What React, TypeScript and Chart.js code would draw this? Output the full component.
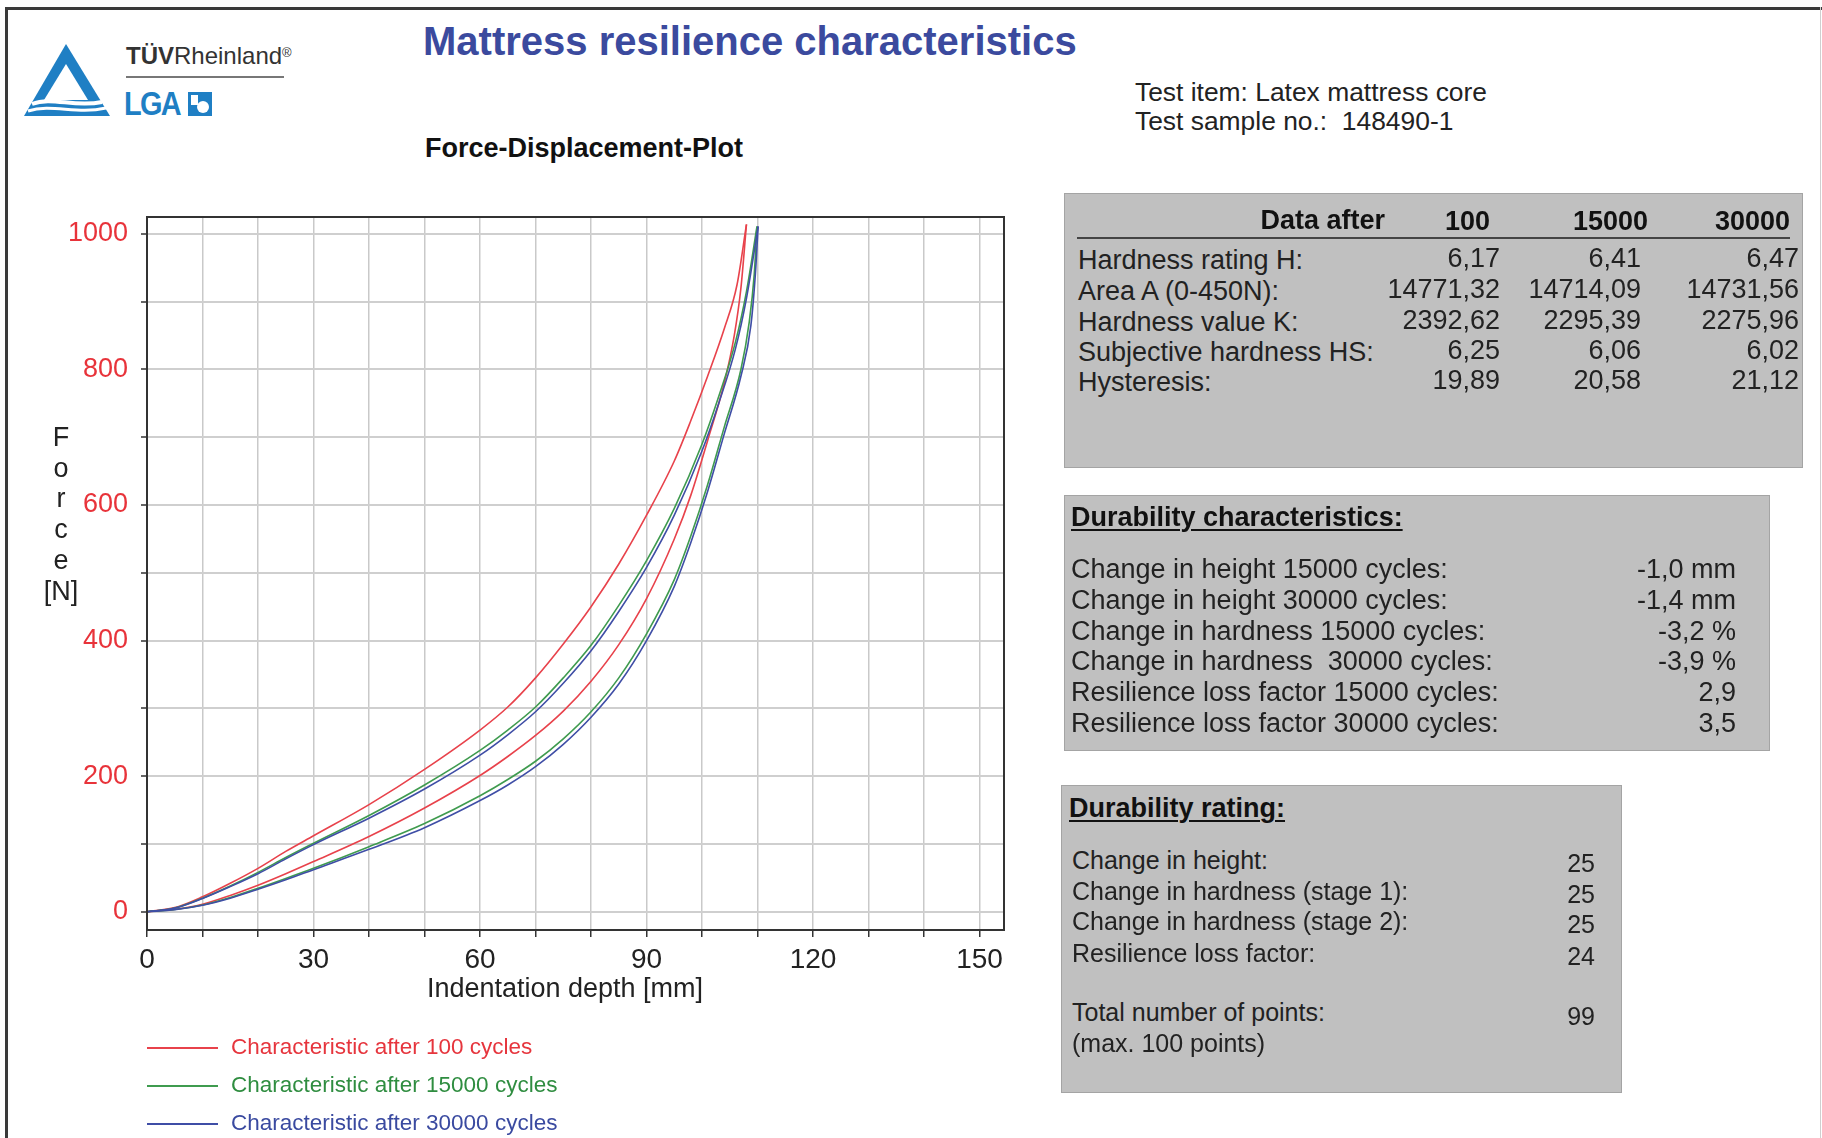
import React, { useEffect, useRef } from 'react';
import { Chart, registerables } from 'chart.js';

Chart.register(...registerables);

const FONT = "'Liberation Sans', Arial, Helvetica, sans-serif";

// Loading (upper) and unloading (lower) branch of each hysteresis loop:
// indentation depth [mm] and force [N]
const LOAD_100_DEPTH = [0, 5, 10, 15, 20, 25, 30, 40, 50, 60, 65, 70, 75, 80, 85, 90, 95, 98, 101, 104, 106.3, 108];
const LOAD_100_FORCE = [0, 6, 22, 42, 64, 89, 112, 158, 210, 268, 302, 345, 395, 450, 513, 585, 665, 725, 790, 860, 925, 1014];
const UNLOAD_100_DEPTH = [0, 5, 10, 15, 20, 25, 30, 40, 50, 60, 65, 70, 75, 80, 85, 90, 95, 98, 101, 104, 105.8, 107, 108];
const UNLOAD_100_FORCE = [0, 3.5, 11, 24, 39, 56, 74, 111, 153, 201, 229, 260, 296, 340, 394, 462, 550, 615, 695, 780, 850, 920, 1014];

const LOAD_15000_DEPTH = [0, 5, 10, 15, 20, 25, 30, 40, 50, 60, 65, 70, 75, 80, 85, 90, 95, 100, 103, 106, 108, 109.9];
const LOAD_15000_FORCE = [0, 5.5, 20, 38, 58, 80, 101, 142, 187, 238, 268, 302, 345, 393, 452, 518, 595, 690, 760, 840, 915, 1011];
const UNLOAD_15000_DEPTH = [0, 5, 10, 15, 20, 25, 30, 40, 50, 60, 65, 70, 75, 80, 85, 90, 95, 98, 101, 104, 107, 108.5, 109.4, 109.9];
const UNLOAD_15000_FORCE = [0, 3.2, 10, 21, 34.5, 49, 64, 96, 130, 171, 195, 222, 255, 295, 345, 410, 490, 555, 630, 715, 800, 870, 940, 1011];

const LOAD_30000_DEPTH = [0, 5, 10, 15, 20, 25, 30, 40, 50, 60, 65, 70, 75, 80, 85, 90, 95, 100, 103, 106, 108, 110.1];
const LOAD_30000_FORCE = [0, 5.3, 19.5, 37, 56, 78, 99, 138, 181, 231, 261, 295, 337, 385, 443, 508, 585, 680, 750, 830, 905, 1011];
const UNLOAD_30000_DEPTH = [0, 5, 10, 15, 20, 25, 30, 40, 50, 60, 65, 70, 75, 80, 85, 90, 95, 98, 101, 104, 107, 108.8, 109.6, 110.1];
const UNLOAD_30000_FORCE = [0, 3, 9.5, 20, 33, 47, 62, 92, 124, 164, 187, 214, 247, 287, 336, 400, 480, 545, 620, 705, 790, 865, 940, 1011];

const SERIES_LABELS = [
  'Characteristic after 100 cycles',
  'Characteristic after 15000 cycles',
  'Characteristic after 30000 cycles',
];
const SERIES_COLORS = ['#e8424b', '#3f9b4f', '#3f4ea6'];
const LEGEND_TEXT_COLORS = ['#e6353d', '#2f8d40', '#3a4aa0'];

const X_TICK_LABELS = [0, 30, 60, 90, 120, 150];
const Y_TICK_LABELS = [0, 200, 400, 600, 800, 1000];

// Tables
const DATA_AFTER_HEADERS = ['100', '15000', '30000'];
const DATA_ROW_LABELS = ['Hardness rating H:', 'Area A (0-450N):', 'Hardness value K:', 'Subjective hardness HS:', 'Hysteresis:'];
const DATA_100 = ['6,17', '14771,32', '2392,62', '6,25', '19,89'];
const DATA_15000 = ['6,41', '14714,09', '2295,39', '6,06', '20,58'];
const DATA_30000 = ['6,47', '14731,56', '2275,96', '6,02', '21,12'];

const DURABILITY_LABELS = [
  'Change in height 15000 cycles:',
  'Change in height 30000 cycles:',
  'Change in hardness 15000 cycles:',
  'Change in hardness  30000 cycles:',
  'Resilience loss factor 15000 cycles:',
  'Resilience loss factor 30000 cycles:',
];
const DURABILITY_VALUES = ['-1,0 mm', '-1,4 mm', '-3,2 %', '-3,9 %', '2,9', '3,5'];

const RATING_LABELS = ['Change in height:', 'Change in hardness (stage 1):', 'Change in hardness (stage 2):', 'Resilience loss factor:'];
const RATING_VALUES = ['25', '25', '25', '24'];
const TOTAL_POINTS = '99';

function pts(depth: number[], force: number[]) {
  return depth.map((d, i) => ({ x: d, y: force[i] }));
}

type TProps = {
  x: number;
  y: number;
  size: number;
  bold?: boolean;
  color?: string;
  align?: 'left' | 'right' | 'center';
  underline?: boolean;
  children: React.ReactNode;
};

function T({ x, y, size, bold, color = '#222', align = 'left', underline, children }: TProps) {
  const w = 700;
  const left = align === 'left' ? x : align === 'right' ? x - w : x - w / 2;
  return (
    <div
      style={{
        position: 'absolute',
        left,
        top: y - size * 0.6,
        width: align === 'left' ? undefined : w,
        textAlign: align,
        fontSize: size,
        lineHeight: `${size * 1.2}px`,
        fontWeight: bold ? 700 : 400,
        color,
        whiteSpace: 'pre',
        textDecoration: underline ? 'underline' : 'none',
        textDecorationThickness: underline ? 2 : undefined,
        textUnderlineOffset: underline ? 3 : undefined,
      }}
    >
      {children}
    </div>
  );
}

function ForceChart() {
  const ref = useRef<HTMLCanvasElement | null>(null);

  useEffect(() => {
    if (!ref.current) return;
    const loading = [
      pts(LOAD_100_DEPTH, LOAD_100_FORCE),
      pts(LOAD_15000_DEPTH, LOAD_15000_FORCE),
      pts(LOAD_30000_DEPTH, LOAD_30000_FORCE),
    ];
    const unloading = [
      pts(UNLOAD_100_DEPTH, UNLOAD_100_FORCE),
      pts(UNLOAD_15000_DEPTH, UNLOAD_15000_FORCE),
      pts(UNLOAD_30000_DEPTH, UNLOAD_30000_FORCE),
    ];
    const datasets: any[] = [];
    for (let i = 0; i < 3; i++) {
      const common = {
        borderColor: SERIES_COLORS[i],
        backgroundColor: SERIES_COLORS[i],
        borderWidth: 1.6,
        pointRadius: 0,
        fill: false,
        cubicInterpolationMode: 'monotone',
        order: 3 - i,
      };
      datasets.push({ label: SERIES_LABELS[i], data: loading[i], ...common });
      datasets.push({ label: SERIES_LABELS[i] + ' (unloading)', data: unloading[i], ...common });
    }

    const frame = {
      id: 'frame',
      afterDraw(chart: any) {
        const { ctx, chartArea } = chart;
        ctx.save();
        ctx.strokeStyle = '#333';
        ctx.lineWidth = 2;
        ctx.strokeRect(chartArea.left, chartArea.top, chartArea.right - chartArea.left, chartArea.bottom - chartArea.top);
        ctx.restore();
      },
    };

    const chart = new Chart(ref.current, {
      type: 'line',
      data: { datasets },
      plugins: [frame],
      options: {
        responsive: false,
        animation: false,
        devicePixelRatio: 1,
        layout: { padding: { left: 0, top: 37, right: 96, bottom: 70 } },
        plugins: { legend: { display: false }, tooltip: { enabled: false } },
        scales: {
          x: {
            type: 'linear',
            min: 0,
            max: 154.4,
            afterFit: (s: any) => {
              s.height = 80;
            },
            ticks: {
              stepSize: 10,
              includeBounds: false,
              autoSkip: false,
              maxRotation: 0,
              minRotation: 0,
              padding: 6,
              color: '#222',
              font: { family: FONT, size: 28 },
              callback: (v: any) => (X_TICK_LABELS.includes(Number(v)) ? String(v) : ''),
            },
            grid: { color: '#c9c9c9', lineWidth: 1.5, tickLength: 7, tickColor: '#333', tickWidth: 1.5 },
            border: { display: true, color: '#333', width: 2 },
            title: { display: false },
          },
          y: {
            type: 'linear',
            min: -27,
            max: 1025,
            afterFit: (s: any) => {
              s.width = 147;
            },
            ticks: {
              stepSize: 100,
              includeBounds: false,
              autoSkip: false,
              padding: 13,
              color: '#e8333a',
              font: { family: FONT, size: 27 },
              callback: (v: any) => (Y_TICK_LABELS.includes(Number(v)) ? String(v) : ''),
            },
            grid: { color: '#cfcfcf', lineWidth: 2, tickLength: 6, tickColor: '#333', tickWidth: 1.5 },
            border: { display: true, color: '#333', width: 2 },
          },
        },
      } as any,
    });
    return () => chart.destroy();
  }, []);

  return (
    <canvas
      ref={ref}
      width={1100}
      height={900}
      style={{ position: 'absolute', left: 0, top: 180, width: 1100, height: 900 }}
    />
  );
}

function Logo() {
  return (
    <>
      <svg style={{ position: 'absolute', left: 22, top: 42 }} width="90" height="78" viewBox="0 0 90 78">
        <path d="M44 2 L88 74 L2 74 Z" fill="#1f7fc4" />
        <path d="M44 22 L66 58 L22 58 Z" fill="#fff" />
        <path d="M10 62 C30 54 52 66 80 60" stroke="#fff" strokeWidth="4" fill="none" />
        <path d="M6 69 C30 61 54 73 84 66" stroke="#fff" strokeWidth="3" fill="none" />
      </svg>
      <div
        style={{
          position: 'absolute',
          left: 126,
          top: 41,
          fontSize: 24,
          lineHeight: '29px',
          color: '#333',
          whiteSpace: 'pre',
        }}
      >
        <b>TÜV</b>Rheinland<sup style={{ fontSize: 13, verticalAlign: 'top', position: 'relative', top: -3 }}>®</sup>
      </div>
      <div style={{ position: 'absolute', left: 126, top: 76, width: 158, height: 2, background: '#777' }} />
      <div
        style={{
          position: 'absolute',
          left: 124,
          top: 86,
          fontSize: 34,
          lineHeight: '34px',
          fontWeight: 700,
          color: '#1f7fc4',
          letterSpacing: -2,
          transform: 'scaleX(0.85)',
          transformOrigin: 'left center',
        }}
      >
        LGA
      </div>
      <div style={{ position: 'absolute', left: 188, top: 92, width: 24, height: 24, background: '#1f7fc4' }}>
        <div style={{ position: 'absolute', left: 3, top: 3, width: 7, height: 10, background: '#fff' }} />
        <div style={{ position: 'absolute', left: 9, top: 9, width: 12, height: 12, borderRadius: 6, background: '#fff' }} />
      </div>
    </>
  );
}

export default function App() {
  const box: React.CSSProperties = {
    position: 'absolute',
    background: '#c0c0c0',
    border: '1px solid #a4a4a4',
    boxSizing: 'border-box',
  };
  const dataCols = [DATA_100, DATA_15000, DATA_30000];
  const dataColRight = [1500, 1641, 1799];
  const headerRight = [1490, 1648, 1790];
  const dataRowY = [260, 291, 322, 352, 382];
  const durY = [569, 600, 631, 661, 692, 723];
  const ratingY = [860, 891, 921, 953];
  const legendY = [1048, 1086, 1124];
  const yTitle = ['F', 'o', 'r', 'c', 'e', '[N]'];

  return (
    <div
      style={{
        position: 'fixed',
        left: 0,
        top: 0,
        width: 1822,
        height: 1138,
        overflow: 'hidden',
        background: '#fff',
        fontFamily: FONT,
      }}
    >
      {/* page frame */}
      <div style={{ position: 'absolute', left: 5, top: 7, width: 3, height: 1138, background: '#3a3a3a' }} />
      <div style={{ position: 'absolute', left: 5, top: 7, width: 1822, height: 3, background: '#3a3a3a' }} />
      <div style={{ position: 'absolute', left: 1820, top: 7, width: 1, height: 1138, background: '#cfcfcf' }} />

      <Logo />

      <T x={423} y={41} size={40} bold color="#3b4a9e">
        Mattress resilience characteristics
      </T>
      <T x={1135} y={93} size={26.4}>Test item: Latex mattress core</T>
      <T x={1135} y={122} size={26.4}>Test sample no.:  148490-1</T>
      <T x={425} y={148} size={27} bold color="#111">
        Force-Displacement-Plot
      </T>

      <ForceChart />

      {yTitle.map((t, i) => (
        <T key={t} x={61} y={437 + i * 30.8} size={27} align="center">
          {t}
        </T>
      ))}
      <T x={565} y={988} size={27} align="center">
        Indentation depth [mm]
      </T>

      {SERIES_LABELS.map((lab, i) => (
        <React.Fragment key={lab}>
          <div
            style={{
              position: 'absolute',
              left: 147,
              top: legendY[i] - 1,
              width: 71,
              height: 2,
              background: SERIES_COLORS[i],
            }}
          />
          <T x={231} y={legendY[i] - 2} size={22.5} color={LEGEND_TEXT_COLORS[i]}>
            {lab}
          </T>
        </React.Fragment>
      ))}

      {/* Box 1: Data after */}
      <div style={{ ...box, left: 1064, top: 193, width: 739, height: 275 }} />
      <T x={1385} y={220} size={27} bold align="right" color="#111">
        Data after
      </T>
      {DATA_AFTER_HEADERS.map((h, i) => (
        <T key={h} x={headerRight[i]} y={221} size={27} bold align="right" color="#111">
          {h}
        </T>
      ))}
      <div style={{ position: 'absolute', left: 1077, top: 237, width: 713, height: 2, background: '#444' }} />
      {DATA_ROW_LABELS.map((lab, r) => (
        <React.Fragment key={lab}>
          <T x={1078} y={dataRowY[r]} size={27}>
            {lab}
          </T>
          {dataCols.map((col, c) => (
            <T key={c} x={dataColRight[c]} y={dataRowY[r] - 2} size={27} align="right">
              {col[r]}
            </T>
          ))}
        </React.Fragment>
      ))}

      {/* Box 2: Durability characteristics */}
      <div style={{ ...box, left: 1064, top: 495, width: 706, height: 256 }} />
      <T x={1071} y={517} size={27} bold underline color="#111">
        Durability characteristics:
      </T>
      {DURABILITY_LABELS.map((lab, r) => (
        <React.Fragment key={lab}>
          <T x={1071} y={durY[r]} size={27}>
            {lab}
          </T>
          <T x={1736} y={durY[r]} size={27} align="right">
            {DURABILITY_VALUES[r]}
          </T>
        </React.Fragment>
      ))}

      {/* Box 3: Durability rating */}
      <div style={{ ...box, left: 1061, top: 785, width: 561, height: 308 }} />
      <T x={1069} y={808} size={27} bold underline color="#111">
        Durability rating:
      </T>
      {RATING_LABELS.map((lab, r) => (
        <React.Fragment key={lab}>
          <T x={1072} y={ratingY[r]} size={25}>
            {lab}
          </T>
          <T x={1595} y={ratingY[r] + 3} size={25} align="right">
            {RATING_VALUES[r]}
          </T>
        </React.Fragment>
      ))}
      <T x={1072} y={1012} size={25}>Total number of points:</T>
      <T x={1595} y={1016} size={25} align="right">
        {TOTAL_POINTS}
      </T>
      <T x={1072} y={1043} size={25}>(max. 100 points)</T>
    </div>
  );
}
